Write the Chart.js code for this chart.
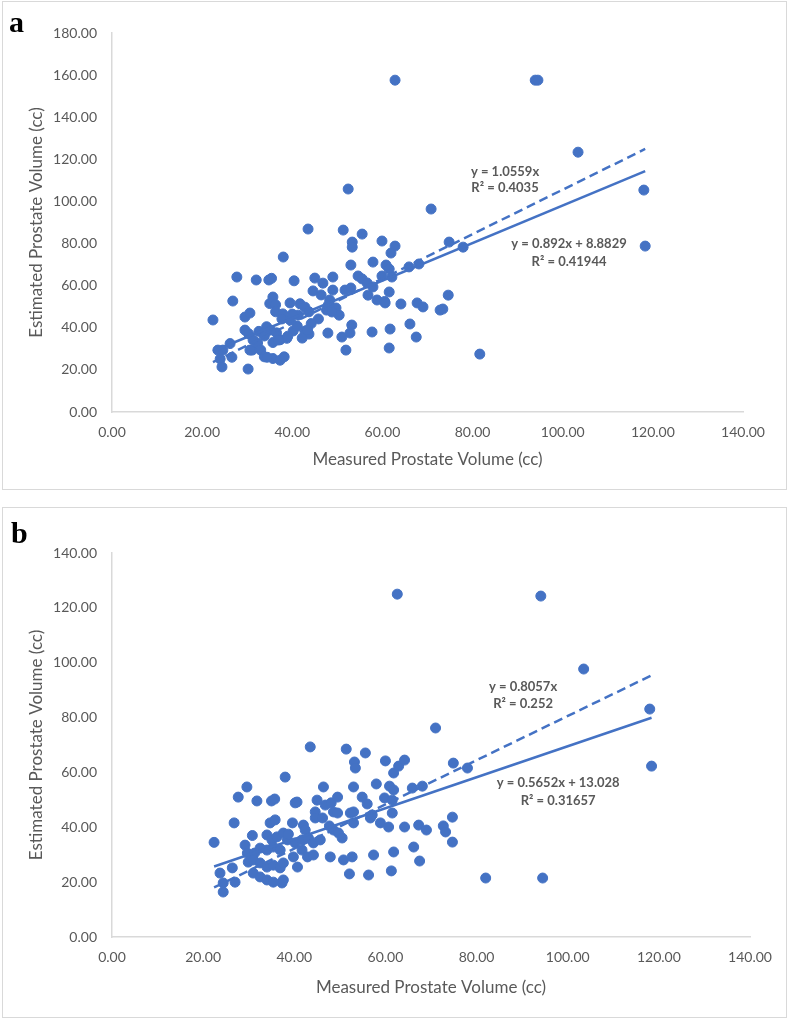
<!DOCTYPE html>
<html>
<head>
<meta charset="utf-8">
<script src="https://cdn.jsdelivr.net/npm/chart.js@4.4.1/dist/chart.umd.min.js"></script>
<style>
  body { margin: 0; background: #fff; }
  .panel { position: absolute; left: 2px; width: 783px; border: 1px solid #d9d9d9; background: #fff; }
  #boxA { top: 1px; height: 487px; }
  #boxB { top: 507px; height: 509px; }
  .tag { position: absolute; font: bold 30px "Liberation Serif", "Times New Roman", serif; line-height: 1; color: #000; }
  canvas { display: block; }
</style>
</head>
<body>
<div class="panel" id="boxA">
  <canvas id="chartA" width="783" height="487"></canvas>
  <div class="tag" style="left:6px;top:5px;">a</div>
</div>
<div class="panel" id="boxB">
  <canvas id="chartB" width="783" height="509"></canvas>
  <div class="tag" style="left:8px;top:10px;">b</div>
</div>
<script>
// Panel a: measured vs estimated prostate volume (cc)
const measuredA = [
  22.4, 23.5, 24.6, 24.0, 24.4, 26.2, 26.6, 26.8, 27.7, 29.5,
  30.6, 29.5, 30.3, 30.2, 31.1, 32.3, 32.0, 32.6, 33.8, 33.0,
  33.8, 35.7, 37.3, 38.2, 34.8, 35.4, 35.7, 35.0, 36.3, 36.3,
  37.9, 37.7, 35.1, 36.5, 37.3, 35.7, 38.8, 34.3, 38.0, 39.5,
  39.5, 40.4, 40.2, 41.1, 41.3, 41.7, 42.8, 42.8, 43.7, 42.2,
  43.7, 43.5, 44.6, 45.0, 45.8, 46.4, 46.8, 47.6, 48.2, 47.9,
  49.0, 49.0, 48.3, 49.7, 50.4, 51.0, 51.3, 51.7, 51.9, 52.4,
  52.8, 53.2, 53.0, 53.0, 53.3, 53.3, 54.6, 55.5, 55.5, 56.6,
  56.8, 57.9, 57.9, 57.7, 58.8, 59.9, 59.9, 60.6, 60.8, 61.5,
  61.5, 61.7, 61.5, 61.9, 62.1, 62.8, 62.8, 64.1, 65.9, 66.1,
  67.5, 67.7, 68.1, 69.0, 70.8, 72.8, 73.4, 74.6, 74.8, 77.9,
  81.6, 93.9, 94.5, 103.4, 118.0, 118.3, 40.0, 44.2, 43.4, 48.0,
  39.0, 36.9, 31.3, 30.6, 34.4, 60.5, 48.8
];
const estimatedA = [
  43.7, 29.4, 29.4, 25.2, 21.4, 32.5, 26.0, 52.7, 64.1, 45.1,
  47.0, 38.9, 37.2, 20.4, 29.4, 32.8, 62.7, 38.3, 36.1, 29.4,
  26.2, 25.4, 24.6, 26.2, 62.7, 63.5, 54.6, 51.5, 50.9, 47.6,
  46.6, 44.2, 38.9, 37.6, 34.3, 33.0, 35.0, 40.5, 73.6, 51.8,
  43.7, 62.3, 38.5, 40.8, 46.0, 51.4, 49.8, 38.4, 37.0, 35.1,
  47.6, 86.9, 57.5, 63.6, 44.2, 55.6, 61.2, 48.4, 50.5, 37.5,
  64.1, 57.9, 53.2, 49.4, 46.0, 35.6, 86.4, 57.9, 29.4, 105.9,
  37.5, 41.3, 58.9, 69.8, 80.7, 78.3, 64.6, 63.2, 84.5, 61.3,
  55.5, 71.2, 59.4, 38.0, 53.2, 81.2, 64.6, 51.8, 69.8, 67.9,
  57.0, 39.4, 30.4, 75.5, 64.1, 78.8, 157.6, 51.3, 68.9, 41.8,
  35.6, 51.8, 70.3, 49.9, 96.4, 48.4, 48.9, 55.5, 80.7, 78.3,
  27.5, 157.6, 157.6, 123.4, 105.4, 78.8, 46.5, 42.0, 39.0, 50.8,
  36.0, 34.2, 34.2, 29.4, 26.0, 52.5, 47.5
];

// Panel b
const measuredB = [
  22.4, 23.7, 24.4, 24.4, 26.4, 27.0, 26.8, 27.7, 29.6, 29.2,
  29.7, 29.9, 30.8, 31.3, 31.0, 31.0, 31.8, 32.5, 32.5, 32.5,
  34.0, 34.0, 34.0, 34.0, 34.7, 35.0, 35.7, 35.1, 35.4, 35.4,
  35.4, 35.8, 36.2, 36.9, 36.9, 37.3, 37.6, 37.6, 37.6, 38.0,
  38.5, 38.7, 39.6, 39.8, 40.2, 40.6, 40.2, 40.7, 41.7, 41.7,
  42.0, 42.4, 42.9, 43.1, 43.5, 44.2, 44.2, 44.6, 44.6, 45.0,
  45.7, 46.4, 46.2, 46.8, 47.7, 47.9, 48.1, 48.6, 48.6, 49.5,
  49.5, 49.7, 50.5, 50.8, 51.4, 52.1, 52.3, 52.7, 53.0, 53.0,
  53.0, 53.2, 53.4, 54.9, 55.6, 56.0, 56.3, 56.7, 57.1, 57.4,
  58.0, 58.9, 59.8, 60.0, 60.7, 60.9, 61.3, 61.5, 61.5, 61.8,
  61.8, 61.8, 62.6, 62.9, 64.2, 64.2, 65.9, 66.2, 67.3, 67.5,
  68.1, 69.0, 71.0, 72.7, 73.2, 74.7, 74.7, 74.9, 78.0, 82.0,
  94.1, 94.5, 103.5, 118.0, 118.4
];
const estimatedB = [
  34.5, 23.3, 19.7, 16.4, 25.2, 20.0, 41.6, 51.0, 54.7, 33.5,
  30.6, 27.3, 37.0, 30.6, 28.1, 23.3, 49.6, 32.4, 27.0, 21.9,
  37.2, 31.7, 25.5, 20.8, 41.6, 49.6, 50.3, 35.4, 32.8, 26.2,
  20.0, 42.7, 36.5, 31.7, 25.2, 19.7, 37.9, 27.0, 20.8, 58.3,
  35.4, 37.5, 41.6, 29.2, 48.9, 49.2, 34.3, 25.5, 35.4, 31.7,
  40.8, 39.0, 29.2, 36.1, 69.3, 34.3, 29.9, 45.6, 43.4, 49.9,
  35.4, 54.7, 43.4, 48.1, 40.5, 29.2, 48.9, 39.0, 45.6, 51.0,
  45.2, 37.9, 36.1, 28.1, 68.5, 23.0, 45.2, 29.2, 45.6, 41.6,
  54.7, 63.8, 61.6, 51.0, 67.1, 48.5, 22.6, 43.4, 44.5, 29.9,
  55.8, 41.6, 50.7, 64.2, 40.1, 55.0, 24.1, 49.9, 45.2, 53.6,
  59.8, 31.0, 125.0, 62.3, 64.5, 40.1, 54.3, 32.8, 40.8, 27.7,
  55.0, 39.0, 76.2, 40.5, 38.3, 43.7, 34.6, 63.4, 61.6, 21.5,
  124.3, 21.5, 97.7, 83.1, 62.3
];

// trend lines: [slope, intercept]  (dashed = through origin, solid = linear)
const fitOriginA = [1.0559, 0];
const fitLinearA = [0.892, 8.8829];
const fitOriginB = [0.8057, 0];
const fitLinearB = [0.5652, 13.028];

const eqLabelsA = ['y = 1.0559x', 'R\u00b2 = 0.4035', 'y = 0.892x + 8.8829', 'R\u00b2 = 0.41944'];
const eqLabelsB = ['y = 0.8057x', 'R\u00b2 = 0.252', 'y = 0.5652x + 13.028', 'R\u00b2 = 0.31657'];

const blue = '#4472C4';
const grey = '#595959';
const tickFont = { family: 'Lato, "Open Sans", sans-serif', size: 14 };
const titleFont = { family: 'Lato, "Open Sans", sans-serif', size: 17 };

// draws the trendline equations at data positions
const trendText = {
  id: 'trendText',
  afterDatasetsDraw(chart, args, opts) {
    const { ctx } = chart;
    const xs = chart.scales.x, ys = chart.scales.y;
    ctx.save();
    ctx.font = 'bold 13px Lato, "Open Sans", sans-serif';
    ctx.fillStyle = grey;
    ctx.textAlign = 'center';
    ctx.textBaseline = 'middle';
    opts.items.forEach(it => {
      ctx.fillText(it.text, xs.getPixelForValue(it.x), ys.getPixelForValue(it.y));
    });
    ctx.restore();
  }
};

function trendPoints(fit, xs) {
  const lo = Math.min(...xs), hi = Math.max(...xs);
  return [lo, hi].map(v => ({ x: v, y: fit[0] * v + fit[1] }));
}

function makeChart(id, measured, estimated, fitO, fitL, yMax, pad, xHeight, items) {
  const pts = measured.map((v, i) => ({ x: v, y: estimated[i] }));
  return new Chart(document.getElementById(id), {
    type: 'scatter',
    data: {
      datasets: [
        { type: 'line', data: trendPoints(fitO, measured), borderColor: blue, borderWidth: 2.5,
          borderDash: [9, 5], pointRadius: 0, fill: false, order: 0 },
        { type: 'line', data: trendPoints(fitL, measured), borderColor: blue, borderWidth: 2.5,
          pointRadius: 0, fill: false, order: 1 },
        { data: pts, backgroundColor: blue, borderColor: blue, pointRadius: 5, pointHoverRadius: 5, order: 2 }
      ]
    },
    options: {
      responsive: false,
      animation: false,
      layout: { padding: pad },
      plugins: {
        legend: { display: false },
        tooltip: { enabled: false },
        trendText: { items: items }
      },
      scales: {
        x: {
          type: 'linear', min: 0, max: 140,
          grid: { display: false, drawTicks: false },
          border: { display: true, color: '#d9d9d9', width: 1.5 },
          ticks: { stepSize: 20, color: grey, font: tickFont, padding: 12, maxRotation: 0,
                   callback: v => v.toFixed(2) },
          title: { display: true, text: 'Measured Prostate Volume (cc)', color: grey, font: titleFont,
                   padding: { top: 0, bottom: 19 } },
          afterFit: s => { s.height = xHeight; }
        },
        y: {
          type: 'linear', min: 0, max: yMax,
          grid: { display: false, drawTicks: false },
          border: { display: true, color: '#d9d9d9', width: 1.5 },
          ticks: { stepSize: 20, color: grey, font: tickFont, padding: 15,
                   callback: v => v.toFixed(2) },
          title: { display: true, text: 'Estimated Prostate Volume (cc)', color: grey, font: titleFont,
                   padding: { top: 0, bottom: 0 } },
          afterFit: s => { s.width = 86; }
        }
      }
    },
    plugins: [trendText]
  });
}

window.onload = function() {
  makeChart('chartA', measuredA, estimatedA, fitOriginA, fitLinearA, 180,
    { top: 31, right: 43, left: 23, bottom: 0 }, 77, [
      { text: eqLabelsA[0], x: 87.2, y: 114 },
      { text: eqLabelsA[1], x: 87.2, y: 106.4 },
      { text: eqLabelsA[2], x: 101.4, y: 79.8 },
      { text: eqLabelsA[3], x: 101.4, y: 71.2 }
    ]);
  makeChart('chartB', measuredB, estimatedB, fitOriginB, fitLinearB, 140,
    { top: 45, right: 36, left: 23, bottom: 0 }, 80, [
      { text: eqLabelsB[0], x: 90.2, y: 91.1 },
      { text: eqLabelsB[1], x: 90.2, y: 84.9 },
      { text: eqLabelsB[2], x: 97.9, y: 56.1 },
      { text: eqLabelsB[3], x: 97.9, y: 49.6 }
    ]);
};
</script>
</body>
</html>
